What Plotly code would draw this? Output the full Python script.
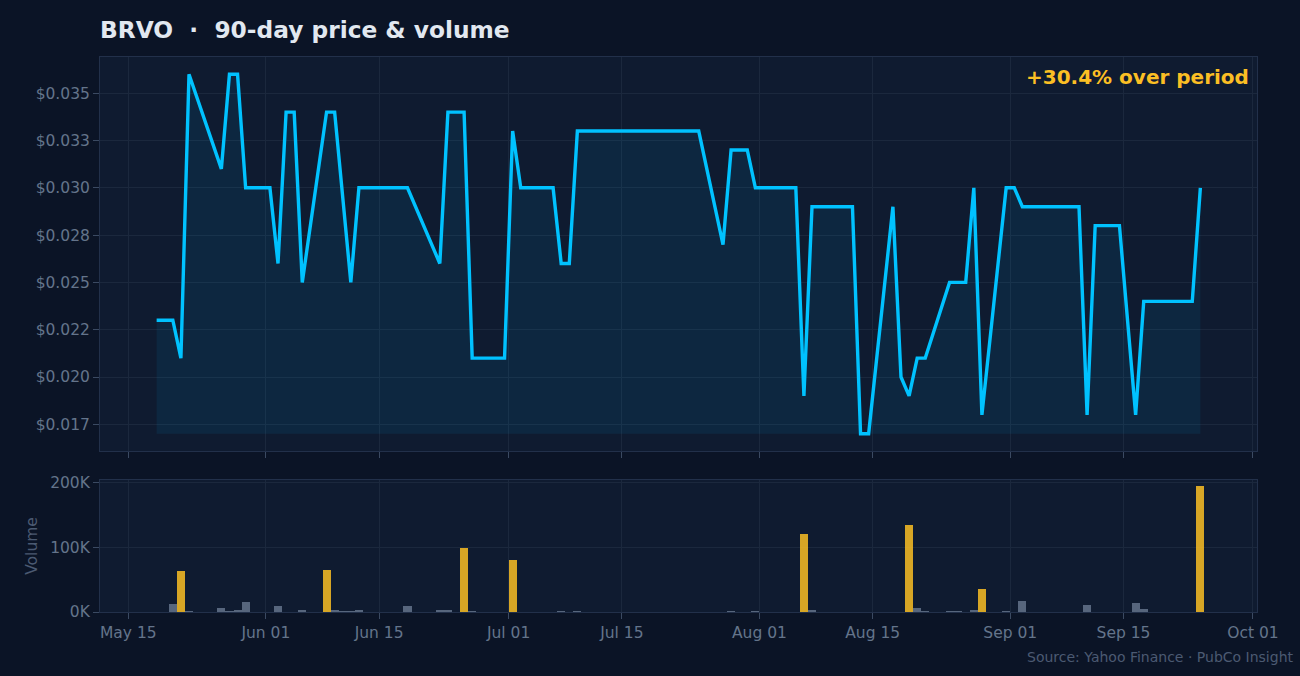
"""
BRVO 90-day price & volume, dark theme, two stacked panels sharing a date axis.
"""
import pandas as pd
import plotly.graph_objects as go
from plotly.subplots import make_subplots

TICKER = "BRVO"

# --- data ----------------------------------------------------------------
dates = [
    "2025-05-19", "2025-05-20", "2025-05-21", "2025-05-22", "2025-05-23",
    "2025-05-27", "2025-05-28", "2025-05-29", "2025-05-30",
    "2025-06-02", "2025-06-03", "2025-06-04", "2025-06-05", "2025-06-06",
    "2025-06-09", "2025-06-10", "2025-06-11", "2025-06-12", "2025-06-13",
    "2025-06-16", "2025-06-17", "2025-06-18", "2025-06-19",
    "2025-06-23", "2025-06-24", "2025-06-25", "2025-06-26", "2025-06-27",
    "2025-06-30", "2025-07-01", "2025-07-02", "2025-07-03",
    "2025-07-07", "2025-07-08", "2025-07-09", "2025-07-10", "2025-07-11",
    "2025-07-14", "2025-07-15", "2025-07-16", "2025-07-17", "2025-07-18",
    "2025-07-21", "2025-07-22", "2025-07-23", "2025-07-24", "2025-07-25",
    "2025-07-28", "2025-07-29", "2025-07-30", "2025-07-31", "2025-08-01",
    "2025-08-04", "2025-08-05", "2025-08-06", "2025-08-07", "2025-08-08",
    "2025-08-11", "2025-08-12", "2025-08-13", "2025-08-14", "2025-08-15",
    "2025-08-18", "2025-08-19", "2025-08-20", "2025-08-21", "2025-08-22",
    "2025-08-25", "2025-08-26", "2025-08-27", "2025-08-28", "2025-08-29",
    "2025-09-01", "2025-09-02", "2025-09-03", "2025-09-04", "2025-09-05",
    "2025-09-08", "2025-09-09", "2025-09-10", "2025-09-11", "2025-09-12",
    "2025-09-15", "2025-09-17", "2025-09-18", "2025-09-19",
    "2025-09-22", "2025-09-23", "2025-09-24", "2025-09-25",
]

close = [
    0.023, 0.023, 0.023, 0.021, 0.036,
    0.031, 0.036, 0.036, 0.030,
    0.030, 0.026, 0.034, 0.034, 0.025,
    0.034, 0.034, None, 0.025, 0.030,
    0.030, 0.030, 0.030, 0.030,
    0.026, 0.034, 0.034, 0.034, 0.021,
    0.021, 0.021, 0.033, 0.030,
    0.030, 0.026, 0.026, 0.033, 0.033,
    0.033, 0.033, 0.033, 0.033, 0.033,
    0.033, 0.033, 0.033, 0.033, 0.033,
    0.027, 0.032, 0.032, 0.032, 0.030,
    0.030, 0.030, 0.030, 0.019, 0.029,
    0.029, 0.029, 0.029, 0.017, 0.017,
    0.029, 0.020, 0.019, 0.021, 0.021,
    0.025, 0.025, 0.025, 0.030, 0.018,
    0.030, 0.030, 0.029, 0.029, 0.029,
    0.029, 0.029, 0.029, 0.018, 0.028,
    0.028, 0.018, 0.024, 0.024,
    0.024, 0.024, 0.024, 0.030,
]

volume = [
    0, 0, 12000, 63000, 1500,
    7000, 1000, 4000, 15000,
    0, 9000, 0, 0, 2600,
    65000, 4000, 1000, 1000, 4000,
    0, 0, 0, 10000,
    4000, 2600, 0, 99000, 1000,
    0, 0, 80000, 0,
    0, 1000, 0, 1000, 0,
    0, 0, 0, 0, 0,
    0, 0, 0, 0, 0,
    0, 1000, 0, 0, 1000,
    0, 0, 0, 121000, 2600,
    0, 0, 0, 0, 0,
    0, 0, 135000, 5700, 1000,
    1000, 1000, 0, 2600, 35000,
    1000, 0, 16600, 0, 0,
    0, 0, 0, 10400, 0,
    0, 13500, 4200, 0,
    0, 0, 0, 194000,
]

tick_dates = ["2025-05-15", "2025-06-01", "2025-06-15", "2025-07-01", "2025-07-15",
              "2025-08-01", "2025-08-15", "2025-09-01", "2025-09-15", "2025-10-01"]
price_ticks = [0.0175, 0.0200, 0.0225, 0.0250, 0.0275, 0.0300, 0.0325, 0.0350]
price_tick_text = ["$0.017", "$0.020", "$0.022", "$0.025",
                   "$0.028", "$0.030", "$0.033", "$0.035"]
vol_ticks = [0, 100000, 200000]

# --- styling ---------------------------------------------------------------
PAPER = "#0b1426"
PANEL = "#0f1b30"
GRID = "#1b283d"
FRAME = "#22304a"
MUTED = "#64748b"
CYAN = "#00c2ff"
AMBER = "#fbbf24"
SLATE = "#64748b"
FONT = "DejaVu Sans"

# sessions are drawn half a day before the midnight gridline of their date
x = pd.to_datetime(dates) - pd.Timedelta(hours=12)
prices = pd.Series(close, dtype="float64")
vols = pd.Series(volume, dtype="float64")

p_min, p_max = prices.min(), prices.max()
pad = (p_max - p_min) * 0.048
first, last = prices.dropna().iloc[0], prices.dropna().iloc[-1]
change = (last / first - 1) * 100

spike = vols.mean() * 2
bar_colors = [AMBER if v > spike else SLATE for v in vols]

fig = make_subplots(rows=2, cols=1, shared_xaxes=True)

# baseline at the period low so the area fill stops there
fig.add_trace(go.Scatter(x=x, y=[p_min] * len(x), mode="lines",
                         line=dict(width=0, color=CYAN), hoverinfo="skip",
                         showlegend=False), row=1, col=1)
fig.add_trace(go.Scatter(x=x, y=prices, mode="lines", name="Close",
                         line=dict(color=CYAN, width=3.4),
                         fill="tonexty", fillcolor="rgba(0,194,255,0.08)",
                         connectgaps=True, showlegend=False), row=1, col=1)
fig.add_trace(go.Bar(x=x, y=vols, name="Volume",
                     marker=dict(color=bar_colors, line=dict(width=0)),
                     opacity=0.85, showlegend=False), row=2, col=1)

x_range = [x.min() - pd.Timedelta(days=7), x.max() + pd.Timedelta(days=7)]
axis_common = dict(showgrid=True, gridcolor=GRID, gridwidth=1,
                   showline=True, linecolor=FRAME, linewidth=1, mirror=True,
                   ticks="outside", ticklen=6, tickcolor="#3b4a62",
                   zeroline=False, tickfont=dict(color=MUTED, size=15.5))

fig.update_xaxes(range=x_range, tickvals=pd.to_datetime(tick_dates),
                 tickformat="%b %d", **axis_common)
fig.update_xaxes(showticklabels=False, row=1, col=1)

fig.update_yaxes(range=[p_min - pad, p_max + pad], tickvals=price_ticks,
                 ticktext=price_tick_text, domain=[0.29, 1.0], row=1, col=1,
                 **axis_common)
fig.update_yaxes(range=[0, vols.max() * 1.05], tickvals=vol_ticks,
                 ticktext=[f"{v // 1000}K" for v in vol_ticks],
                 domain=[0.0, 0.238], row=2, col=1,
                 title=dict(text="Volume", font=dict(color="#4b5a72", size=15.5),
                            standoff=8),
                 **axis_common)

fig.add_annotation(text=f"<b>{change:+.1f}% over period</b>",
                   xref="paper", yref="paper", x=0.995, y=0.964,
                   xanchor="right", yanchor="middle", showarrow=False,
                   font=dict(color=AMBER, size=20, family=FONT))
fig.add_annotation(text="Source: Yahoo Finance · PubCo Insight",
                   xref="paper", yref="paper", x=1.034, y=-0.081,
                   xanchor="right", yanchor="middle", showarrow=False,
                   font=dict(color="#4b5a72", size=14, family=FONT))

fig.update_layout(
    title=dict(text=f"<b>{TICKER}\u00a0\u00a0·\u00a0\u00a090-day price &amp; volume</b>",
               x=100 / 1300, xanchor="left", y=1 - 30 / 676, yanchor="middle",
               font=dict(color="#e2e8f0", size=23.3, family=FONT)),
    font=dict(family=FONT, color=MUTED, size=15.5),
    paper_bgcolor=PAPER, plot_bgcolor=PANEL,
    width=1300, height=676,
    margin=dict(l=100, r=43, t=57, b=64),
    bargap=0, showlegend=False,
)

# drop the default page margin so the 1300x676 figure fills the window
fig.write_html("out.html", config={"displayModeBar": False},
               post_script="document.body.style.margin='0';"
                           "document.body.style.background='" + PAPER + "';")
